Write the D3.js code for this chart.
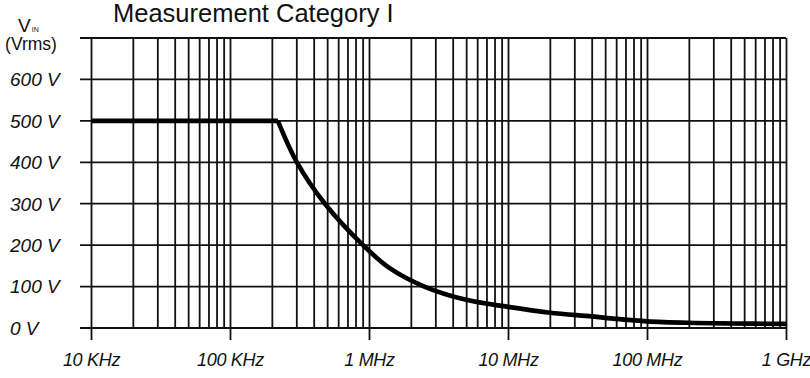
<!DOCTYPE html>
<html><head><meta charset="utf-8">
<script src="https://cdn.jsdelivr.net/npm/d3@7"></script>
<style>body{margin:0;background:#fff}svg{display:block}</style>
</head><body>
<svg id="c" width="810" height="378"></svg>
<script>
// Data
const freqs = [1e4, 2.21e5, 3.03e5, 4.82e5, 9.06e5, 1.4e6, 2.5e6, 5.0e6, 1.0e7, 2.0e7, 4.0e7, 6.0e7, 1.0e8, 2.0e8, 4.0e8, 1.0e9];
const volts = [500, 500, 400, 300, 200, 145, 100, 68, 51, 37, 28, 22, 16, 12.5, 11, 10];
const xTickValues = [1e4, 1e5, 1e6, 1e7, 1e8, 1e9];
const xTickLabels = ["10 KHz", "100 KHz", "1 MHz", "10 MHz", "100 MHz", "1 GHz"];
const yTickValues = [0, 100, 200, 300, 400, 500, 600];
const yTickLabels = ["0 V", "100 V", "200 V", "300 V", "400 V", "500 V", "600 V"];
const yGridValues = [0, 100, 200, 300, 400, 500, 600, 700];
const title = "Measurement Category I";

const L = 91, R = 786, T = 38, B = 328;
const svg = d3.select("#c");
const x = d3.scaleLog().domain([1e4, 1e9]).range([L, R]);
const y = d3.scaleLinear().domain([0, 700]).range([B, T]);
const ink = "#111";

// vertical grid (all 1..9 multiples per decade)
svg.append("g").attr("transform", `translate(0,${B})`)
  .call(d3.axisBottom(x).tickValues(x.ticks()).tickSize(-(B - T)).tickFormat("").tickSizeOuter(0))
  .call(g => g.select(".domain").remove())
  .call(g => g.selectAll("line").attr("stroke", ink).attr("stroke-width", 1.8));

// horizontal grid
svg.append("g").selectAll("line").data(yGridValues).join("line")
  .attr("x1", 80).attr("x2", x(1e9))
  .attr("y1", d => y(d)).attr("y2", d => y(d))
  .attr("stroke", ink).attr("stroke-width", 1.8);

// decade ticks + labels
svg.append("g").attr("transform", `translate(0,${B})`)
  .call(d3.axisBottom(x).tickValues(xTickValues).tickSize(12).tickPadding(13)
    .tickFormat((d, i) => xTickLabels[i]))
  .call(g => g.select(".domain").remove())
  .call(g => g.selectAll("line").attr("stroke", ink).attr("stroke-width", 1.8))
  .call(g => g.selectAll("text").attr("fill", ink)
    .attr("font-family", "'Liberation Sans Narrow', 'Liberation Sans', Arial, sans-serif")
    .attr("font-style", "italic").attr("font-size", 18).attr("letter-spacing", -0.3));

// y labels
svg.append("g").selectAll("text").data(yTickValues).join("text")
  .attr("x", 10).attr("y", d => y(d)).attr("dy", "0.36em")
  .attr("fill", ink)
  .attr("font-family", "'Liberation Sans Narrow', 'Liberation Sans', Arial, sans-serif")
  .attr("font-style", "italic").attr("font-size", 19)
  .text((d, i) => yTickLabels[i]);

// y axis title
const yt = svg.append("text").attr("x", 18).attr("y", 32)
  .attr("font-family", "'Liberation Sans', Arial, sans-serif").attr("font-size", 19).attr("fill", ink);
yt.append("tspan").text("V");
yt.append("tspan").attr("font-size", 7).attr("dx", 1).text("IN");
svg.append("text").attr("x", 31).attr("y", 50).attr("text-anchor", "middle")
  .attr("font-family", "'Liberation Sans', Arial, sans-serif").attr("font-size", 17.5).attr("fill", ink)
  .text("(Vrms)");

// title
svg.append("text").attr("x", 113).attr("y", 22)
  .attr("font-family", "'Liberation Sans', Arial, sans-serif").attr("font-size", 25.5).attr("fill", ink)
  .text(title);

// curve: flat part (straight) + roll-off (smooth), sharp corner between them
const pts = freqs.map((f, i) => [f, volts[i]]);
const flat = pts.slice(0, 2);
const roll = pts.slice(1);
const straight = d3.line().x(d => x(d[0])).y(d => y(d[1]));
const smooth = d3.line().x(d => x(d[0])).y(d => y(d[1])).curve(d3.curveCatmullRom.alpha(0.5));
svg.append("path").attr("d", straight(flat) + smooth(roll))
  .attr("fill", "none").attr("stroke", "#000").attr("stroke-width", 4.6)
  .attr("stroke-linejoin", "miter");
</script>
</body></html>
